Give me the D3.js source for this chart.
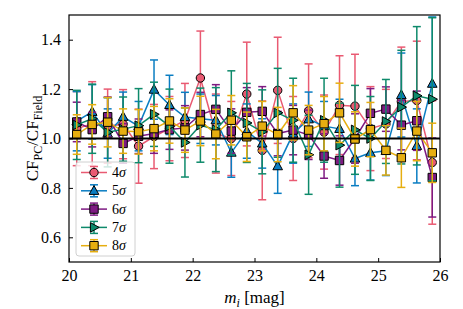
<!DOCTYPE html>
<html>
<head>
<meta charset="utf-8">
<script src="https://cdn.jsdelivr.net/npm/d3@7"></script>
<style>
  body { margin: 0; background: #fff; }
  text { font-family: "Liberation Serif", "DejaVu Serif", serif; }
</style>
</head>
<body>
<div id="chart"></div>
<script>
// bin centres in magnitude
var mags = [20.125, 20.375, 20.625, 20.875, 21.125, 21.375, 21.625, 21.875,
            22.125, 22.375, 22.625, 22.875, 23.125, 23.375, 23.625, 23.875,
            24.125, 24.375, 24.625, 24.875, 25.125, 25.375, 25.625, 25.875];

var cf4 = [1.04, 1.06, 1.05, 1.058, 0.969, 1.008, 1.04, 1.073, 1.245, 1.02, 1.0, 1.18,
           0.952, 1.195, 1.0, 1.112, 1.026, 1.135, 1.131, 1.04, 1.059, 1.15, 1.154, 0.903];
var err4 = [0.15, 0.17, 0.15, 0.14, 0.15, 0.13, 0.13, 0.15, 0.19, 0.16, 0.15, 0.21,
            0.2, 0.215, 0.17, 0.19, 0.15, 0.2, 0.21, 0.17, 0.14, 0.22, 0.24, 0.25];

var cf5 = [1.07, 1.108, 1.02, 1.088, 1.05, 1.198, 1.136, 1.087, 1.08, 1.074, 0.943, 1.03,
           0.98, 0.888, 1.02, 1.078, 1.05, 1.039, 0.919, 0.942, 0.95, 1.176, 0.97, 1.222];
var err5 = [0.12, 0.11, 0.1, 0.1, 0.1, 0.12, 0.12, 0.1, 0.1, 0.1, 0.1, 0.11,
            0.1, 0.11, 0.12, 0.11, 0.1, 0.12, 0.11, 0.11, 0.1, 0.17, 0.15, 0.27];

var cf6 = [1.067, 1.036, 1.088, 0.98, 1.009, 1.02, 1.036, 1.043, 1.097, 1.118, 1.03, 1.106,
           1.11, 1.02, 1.034, 1.015, 0.929, 0.911, 1.0, 1.102, 1.119, 1.054, 1.072, 0.842];
var err6 = [0.08, 0.07, 0.08, 0.08, 0.07, 0.08, 0.08, 0.09, 0.09, 0.1, 0.09, 0.1,
            0.1, 0.09, 0.1, 0.1, 0.09, 0.1, 0.1, 0.1, 0.09, 0.1, 0.12, 0.16];

var cf7 = [1.055, 1.08, 1.025, 1.038, 1.052, 1.098, 1.05, 0.984, 1.054, 1.036, 1.104, 1.063,
           1.027, 1.104, 1.074, 0.934, 1.074, 0.973, 1.035, 1.0, 1.069, 1.127, 1.173, 1.159];
var err7 = [0.14, 0.14, 0.14, 0.13, 0.15, 0.13, 0.15, 0.14, 0.15, 0.17, 0.17, 0.16,
            0.17, 0.18, 0.17, 0.16, 0.17, 0.17, 0.18, 0.17, 0.17, 0.23, 0.28, 0.33];

var cf8 = [1.016, 1.057, 1.066, 1.03, 1.027, 1.04, 1.071, 1.034, 1.071, 1.018, 1.074, 1.007,
           1.05, 1.016, 1.104, 1.034, 1.06, 1.104, 0.998, 1.036, 0.952, 0.922, 1.03, 0.942];
var err8 = [0.08, 0.08, 0.1, 0.09, 0.09, 0.09, 0.09, 0.09, 0.1, 0.1, 0.1, 0.1,
            0.1, 0.11, 0.11, 0.1, 0.11, 0.12, 0.11, 0.11, 0.1, 0.12, 0.12, 0.12];

var xTicks = [20, 21, 22, 23, 24, 25, 26];
var yTicks = [0.6, 0.8, 1.0, 1.2, 1.4];

var series = [
  { sig: "4", vals: cf4, errs: err4, color: "#E95A72", marker: "circle" },
  { sig: "5", vals: cf5, errs: err5, color: "#0A7DC2", marker: "triangleUp" },
  { sig: "6", vals: cf6, errs: err6, color: "#7E1A82", marker: "square" },
  { sig: "7", vals: cf7, errs: err7, color: "#0E8A6B", marker: "triangleRight" },
  { sig: "8", vals: cf8, errs: err8, color: "#E6AE10", marker: "square" }
];

var serif = "'Liberation Serif', 'DejaVu Serif', serif";

var margin = { top: 15, right: 23, bottom: 47, left: 69 },
    width = 463 - margin.left - margin.right,
    height = 309 - margin.top - margin.bottom;

var x = d3.scaleLinear().domain([20, 26]).range([0, width]);
var y = d3.scaleLinear().domain([0.5, 1.5]).range([height, 0]);

var svg = d3.select("#chart").append("svg")
  .attr("width", width + margin.left + margin.right)
  .attr("height", height + margin.top + margin.bottom)
  .append("g")
  .attr("transform", "translate(" + margin.left + "," + margin.top + ")");

svg.append("defs").append("clipPath").attr("id", "clip")
  .append("rect").attr("width", width).attr("height", height);

function markerPath(type, cx, cy) {
  var p = d3.path();
  if (type === "circle") {
    p.moveTo(cx + 4.2, cy);
    p.arc(cx, cy, 4.2, 0, 2 * Math.PI);
  } else if (type === "square") {
    p.rect(cx - 4.2, cy - 4.2, 8.4, 8.4);
  } else if (type === "triangleUp") {
    p.moveTo(cx, cy - 5.2); p.lineTo(cx + 4.8, cy + 3.6); p.lineTo(cx - 4.8, cy + 3.6); p.closePath();
  } else {
    p.moveTo(cx + 5.2, cy); p.lineTo(cx - 3.6, cy - 4.8); p.lineTo(cx - 3.6, cy + 4.8); p.closePath();
  }
  return p.toString();
}

var plot = svg.append("g").attr("clip-path", "url(#clip)");

var line = d3.line()
  .x(function (d) { return x(d.m); })
  .y(function (d) { return y(d.v); });

series.forEach(function (s) {
  var pts = mags.map(function (m, i) { return { m: m, v: s.vals[i], e: s.errs[i] }; });
  var g = plot.append("g");

  g.selectAll(".ebar").data(pts).enter().append("line")
    .attr("x1", function (d) { return x(d.m); })
    .attr("x2", function (d) { return x(d.m); })
    .attr("y1", function (d) { return y(d.v - d.e); })
    .attr("y2", function (d) { return y(d.v + d.e); })
    .attr("stroke", s.color).attr("stroke-width", 1.5);

  [-1, 1].forEach(function (sgn) {
    g.selectAll(".cap" + sgn).data(pts).enter().append("line")
      .attr("x1", function (d) { return x(d.m) - 4; })
      .attr("x2", function (d) { return x(d.m) + 4; })
      .attr("y1", function (d) { return y(d.v + sgn * d.e); })
      .attr("y2", function (d) { return y(d.v + sgn * d.e); })
      .attr("stroke", s.color).attr("stroke-width", 1.5);
  });

  g.append("path").datum(pts)
    .attr("d", line)
    .attr("fill", "none")
    .attr("stroke", s.color)
    .attr("stroke-width", 1.5);

  g.selectAll(".mk").data(pts).enter().append("path")
    .attr("d", function (d) { return markerPath(s.marker, x(d.m), y(d.v)); })
    .attr("fill", s.color)
    .attr("stroke", "#000")
    .attr("stroke-width", 1);
});

// reference line at 1
svg.append("line")
  .attr("x1", 0).attr("x2", width)
  .attr("y1", y(1)).attr("y2", y(1))
  .attr("stroke", "#000").attr("stroke-width", 2);

// axes with inward ticks
var xAxis = d3.axisBottom(x).tickValues(xTicks).tickSize(-4).tickPadding(8)
  .tickFormat(d3.format("d"));
var yAxis = d3.axisLeft(y).tickValues(yTicks).tickSize(-4).tickPadding(8)
  .tickFormat(d3.format(".1f"));

svg.append("g")
  .attr("transform", "translate(0," + height + ")")
  .call(xAxis)
  .attr("font-family", serif).attr("font-size", 16)
  .call(function (g) { g.select(".domain").remove(); })
  .selectAll("text").attr("fill", "#000");

svg.append("g")
  .call(yAxis)
  .attr("font-family", serif).attr("font-size", 16)
  .call(function (g) { g.select(".domain").remove(); })
  .selectAll("text").attr("fill", "#000");

svg.selectAll(".tick line").attr("stroke", "#000").attr("stroke-width", 1);

svg.append("rect")
  .attr("width", width).attr("height", height)
  .attr("fill", "none").attr("stroke", "#000").attr("stroke-width", 1.2);

// x label
var xl = svg.append("text")
  .attr("x", width / 2).attr("y", height + 41)
  .attr("text-anchor", "middle").attr("font-size", 17);
xl.append("tspan").attr("font-style", "italic").text("m");
xl.append("tspan").attr("font-style", "italic").attr("font-size", 12).attr("dy", 4).text("i");
xl.append("tspan").attr("dy", -4).text(" [mag]");

// y label
var yl = svg.append("text")
  .attr("transform", "translate(-31," + (height / 2) + ") rotate(-90)")
  .attr("text-anchor", "middle").attr("font-size", 17);
yl.append("tspan").text("CF");
yl.append("tspan").attr("font-size", 12).attr("dy", 4).text("PC");
yl.append("tspan").attr("dy", -4).text("/CF");
yl.append("tspan").attr("font-size", 12).attr("dy", 4).text("Field");

// legend
var leg = svg.append("g").attr("transform", "translate(7,147)");
leg.append("rect")
  .attr("width", 59).attr("height", 94).attr("rx", 3)
  .attr("fill", "#fff").attr("fill-opacity", 0.8)
  .attr("stroke", "#d0d0d0").attr("stroke-width", 1);

series.forEach(function (s, i) {
  var ly = 10.5 + i * 18.3;
  var item = leg.append("g");
  item.append("line").attr("x1", 5).attr("x2", 31).attr("y1", ly).attr("y2", ly)
    .attr("stroke", s.color).attr("stroke-width", 1.5);
  item.append("line").attr("x1", 18).attr("x2", 18).attr("y1", ly - 6).attr("y2", ly + 6)
    .attr("stroke", s.color).attr("stroke-width", 1.5);
  [-6, 6].forEach(function (o) {
    item.append("line").attr("x1", 14).attr("x2", 22).attr("y1", ly + o).attr("y2", ly + o)
      .attr("stroke", s.color).attr("stroke-width", 1.5);
  });
  item.append("path").attr("d", markerPath(s.marker, 18, ly))
    .attr("fill", s.color).attr("stroke", "#000").attr("stroke-width", 1);
  var t = item.append("text").attr("x", 36).attr("y", ly + 4.5).attr("font-size", 14);
  t.append("tspan").text(s.sig);
  t.append("tspan").attr("font-style", "italic").text("σ");
});
</script>
</body>
</html>
